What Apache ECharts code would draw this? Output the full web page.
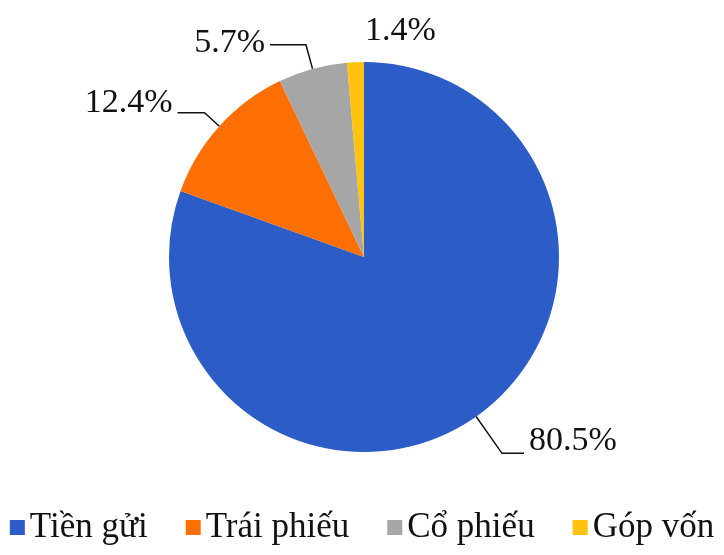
<!DOCTYPE html>
<html>
<head>
<meta charset="utf-8">
<script src="https://cdn.jsdelivr.net/npm/echarts@6/dist/echarts.min.js"></script>
<style>
  html, body { margin: 0; padding: 0; background: #fff; }
  #chart { width: 724px; height: 555px; }
</style>
</head>
<body>
<div id="chart"></div>
<script>
const categories = ['Tiền gửi', 'Trái phiếu', 'Cổ phiếu', 'Góp vốn']
const values = [80.5, 12.4, 5.7, 1.4]
const colors = ['#2c5cc6', '#fd6f02', '#a6a6a6', '#ffc20e']

// leader line lengths per slice (the last one has no line)
const lineLen = [[45, 22], [20, 27], [25, 36], [0, 0]]
// how far each label text sits above its line end
const labelLift = [12, 10, 2, 0]

const serif = '"Liberation Serif", "Times New Roman", serif'

const chart = echarts.init(document.getElementById('chart'))

const data = categories.map((name, i) => ({
  name: name,
  value: values[i],
  labelLine: {
    show: i !== 3,
    length: lineLen[i][0],
    length2: lineLen[i][1]
  }
}))

const option = {
  color: colors,
  animation: false,
  legend: {
    left: 'center',
    top: 505,
    icon: 'rect',
    itemWidth: 15,
    itemHeight: 15,
    itemGap: 38,
    textStyle: {
      fontFamily: serif,
      fontSize: 35,
      color: '#111'
    },
    data: categories
  },
  series: [
    {
      type: 'pie',
      center: [364, 257],
      radius: 195,
      startAngle: 90,
      clockwise: true,
      avoidLabelOverlap: false,
      data: data,
      itemStyle: {
        borderWidth: 0
      },
      label: {
        show: true,
        position: 'outside',
        formatter: p => p.value.toFixed(1) + '%',
        fontFamily: serif,
        fontSize: 34,
        color: '#111'
      },
      labelLine: {
        lineStyle: {
          color: '#111',
          width: 1.5
        }
      },
      labelLayout: function (params) {
        // small slice: label sits to the right of the slice, no line
        if (params.dataIndex === 3) {
          return {
            x: params.rect.x + params.rect.width + 1,
            y: params.rect.y - 31,
            align: 'left',
            verticalAlign: 'middle'
          }
        }
        return { dy: -labelLift[params.dataIndex] }
      },
      emphasis: { disabled: true }
    }
  ]
}

chart.setOption(option)
</script>
</body>
</html>
